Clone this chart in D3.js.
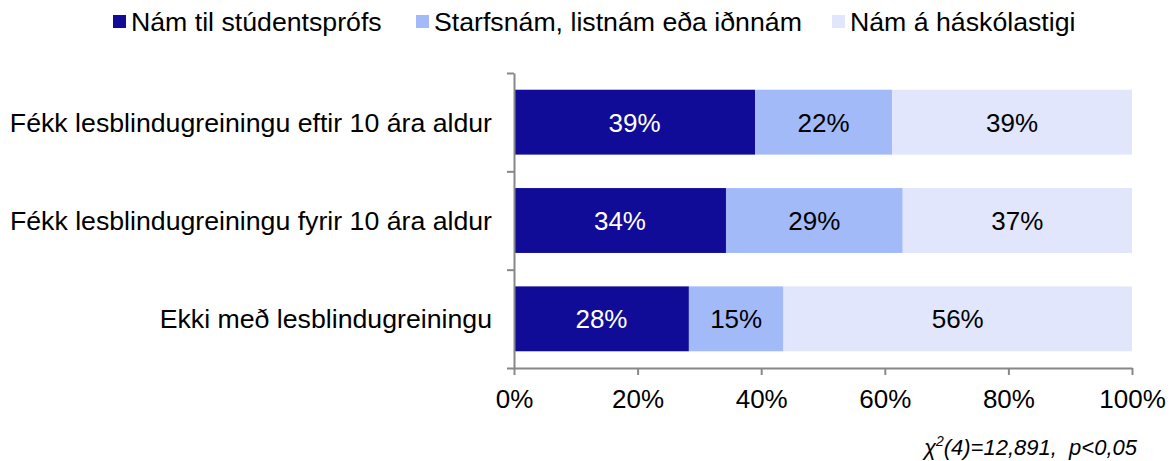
<!DOCTYPE html>
<html>
<head>
<meta charset="utf-8">
<script src="https://cdn.jsdelivr.net/npm/d3@7"></script>
<style>
  body { margin: 0; background: #fff; }
  svg { display: block; font-family: "Liberation Sans", Arial, sans-serif; }
</style>
</head>
<body>
<div id="chart"></div>
<script>
// flokkar og gögn
const categories = [
    "Fékk lesblindugreiningu eftir 10 ára aldur",
    "Fékk lesblindugreiningu fyrir 10 ára aldur",
    "Ekki með lesblindugreiningu"
];
const seriesNames = ["Nám til stúdentsprófs", "Starfsnám, listnám eða iðnnám", "Nám á háskólastigi"];
const studentsprof = [39.0, 34.3, 28.3];
const starfsnam = [22.2, 28.6, 15.3];
const haskoli = [38.8, 37.1, 56.4];
const tickValues = [0, 20, 40, 60, 80, 100];
const colors = ["#110C98", "#A3BAF8", "#E1E6FC"];
const textColors = ["#ffffff", "#000000", "#000000"];
const note = "=12,891,  p<0,05";

const width = 1175, height = 461;
const margin = {top: 73, right: 43, bottom: 93, left: 514};
const fontSize = 26;
const labelSize = 26.7;

const rows = categories.map((c, i) => ({
    cat: c,
    [seriesNames[0]]: studentsprof[i],
    [seriesNames[1]]: starfsnam[i],
    [seriesNames[2]]: haskoli[i]
}));
const series = d3.stack().keys(seriesNames)(rows);

const x = d3.scaleLinear()
    .domain([0, 100])
    .range([margin.left, width - margin.right]);

const y = d3.scaleBand()
    .domain(categories)
    .range([margin.top, height - margin.bottom])
    .paddingInner(0.34)
    .paddingOuter(0.17);

// category boundaries for the left axis ticks
const yEdge = d3.scaleLinear()
    .domain([0, categories.length])
    .range([margin.top, height - margin.bottom]);

const color = d3.scaleOrdinal().domain(seriesNames).range(colors);
const textColor = d3.scaleOrdinal().domain(seriesNames).range(textColors);

const svg = d3.select("#chart").append("svg")
    .attr("width", width)
    .attr("height", height)
    .attr("viewBox", [0, 0, width, height]);

// bars
const groups = svg.append("g")
    .selectAll("g")
    .data(series)
    .join("g")
    .attr("fill", d => color(d.key));

groups.selectAll("rect")
    .data(d => d.map(v => (v.key = d.key, v)))
    .join("rect")
    .attr("x", d => x(d[0]))
    .attr("y", d => y(d.data.cat))
    .attr("width", d => x(d[1]) - x(d[0]))
    .attr("height", y.bandwidth());

groups.selectAll("text")
    .data(d => d)
    .join("text")
    .attr("x", d => (x(d[0]) + x(d[1])) / 2)
    .attr("y", d => y(d.data.cat) + y.bandwidth() / 2)
    .attr("dy", "0.36em")
    .attr("text-anchor", "middle")
    .attr("font-size", fontSize)
    .attr("fill", d => textColor(d.key))
    .text(d => Math.round(d[1] - d[0]) + "%");

// x axis
const xAxis = svg.append("g")
    .attr("transform", `translate(0,${height - margin.bottom})`)
    .call(d3.axisBottom(x).tickValues(tickValues).tickSize(7).tickSizeOuter(0).tickFormat(d => d + "%"));
xAxis.select(".domain").attr("stroke", "#888").attr("stroke-width", 2);
xAxis.selectAll(".tick line").attr("stroke", "#888").attr("stroke-width", 2);
xAxis.selectAll(".tick text")
    .attr("font-size", fontSize)
    .attr("font-family", "'Liberation Sans', Arial, sans-serif")
    .attr("fill", "#000")
    .attr("y", 40)
    .attr("dy", 0);

// y axis (boundaries only)
const yAxis = svg.append("g")
    .attr("transform", `translate(${margin.left},0)`)
    .call(d3.axisLeft(yEdge).tickValues(d3.range(categories.length + 1)).tickSize(7).tickSizeOuter(0).tickFormat(""));
yAxis.select(".domain").attr("stroke", "#888").attr("stroke-width", 2);
yAxis.selectAll(".tick line").attr("stroke", "#888").attr("stroke-width", 2);

// category labels
svg.append("g")
    .selectAll("text")
    .data(categories)
    .join("text")
    .attr("x", margin.left - 22)
    .attr("y", d => y(d) + y.bandwidth() / 2)
    .attr("dy", "0.36em")
    .attr("text-anchor", "end")
    .attr("font-size", labelSize)
    .attr("fill", "#000")
    .text(d => d);

// legend
const legendX = [113, 416, 832];
const legend = svg.append("g")
    .selectAll("g")
    .data(seriesNames)
    .join("g")
    .attr("transform", (d, i) => `translate(${legendX[i]},0)`);
legend.append("rect")
    .attr("x", 0).attr("y", 15)
    .attr("width", 13).attr("height", 13)
    .attr("fill", d => color(d));
legend.append("text")
    .attr("x", 18).attr("y", 31)
    .attr("font-size", labelSize)
    .attr("fill", "#000")
    .text(d => d);

// chi-square note
const noteText = svg.append("text")
    .attr("x", 1137).attr("y", 455)
    .attr("text-anchor", "end")
    .attr("font-size", 22)
    .attr("font-style", "italic")
    .attr("style", "white-space: pre")
    .attr("fill", "#000");
noteText.append("tspan").text("χ");
noteText.append("tspan").attr("font-size", 14).attr("dy", -9).text("2");
noteText.append("tspan").attr("dy", 9).text("(4)" + note);
</script>
</body>
</html>
